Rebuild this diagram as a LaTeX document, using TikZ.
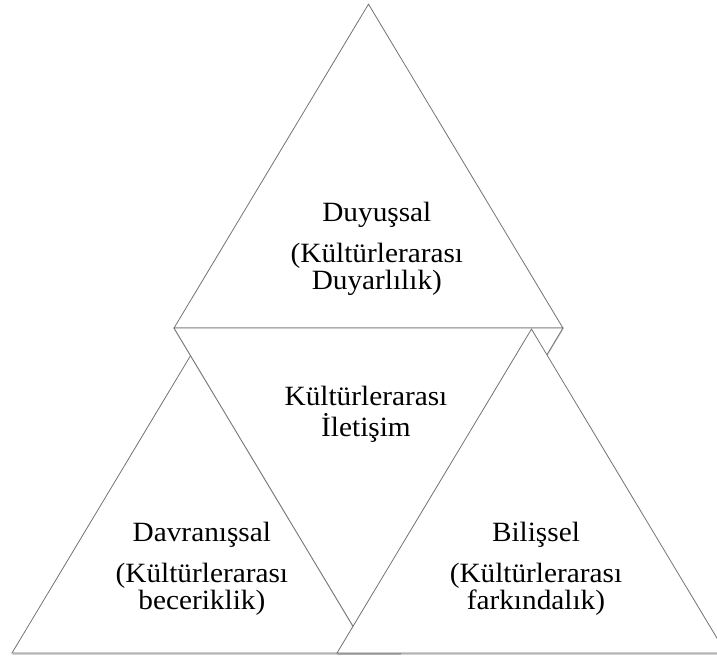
\documentclass[tikz,border=0pt]{standalone}
\usepackage{fontspec}
\setmainfont[FakeStretch=1.05]{Liberation Serif}
\usetikzlibrary{shadows}

\begin{document}
\begin{tikzpicture}[scale=1.0,
  tri/.style={draw=black!55,line width=0.6pt,fill=white,
    drop shadow={shadow xshift=0.2pt,shadow yshift=-1.3pt,opacity=0.3,fill=black!60}},
  lbl/.style={align=center,inner sep=0pt,font=\fontsize{21}{19}\selectfont}]
  \useasboundingbox (0,0) rectangle (18.97,17.41);
  \clip (0,0) rectangle (18.97,17.41);
  % upper triangle
  \draw[tri] (4.603,8.730) -- (9.749,17.30) -- (14.894,8.730) -- cycle;
  % lower left triangle
  \draw[tri] (0.317,0.132) -- (5.463,8.703) -- (10.608,0.132) -- cycle;
  % inverted middle triangle
  \draw[tri] (4.603,8.730) -- (14.894,8.730) -- (9.749,0.159) -- cycle;
  % lower right triangle
  \draw[tri] (8.915,0.132) -- (14.061,8.703) -- (19.206,0.132) -- cycle;
  % labels
  \node[lbl] (duyussal) at (9.97,10.83) {Duyuşsal\\[11pt](Kültürlerarası\\Duyarlılık)};
  \node[lbl] (iletisim) at (9.683,6.45) {Kültürlerarası\\[4pt]İletişim};
  \node[lbl] (davranissal) at (5.34,2.36) {Davranışsal\\[11pt](Kültürlerarası\\beceriklik)};
  \node[lbl] (bilissel) at (14.18,2.36) {Bilişsel\\[11pt](Kültürlerarası\\farkındalık)};
\end{tikzpicture}
\end{document}
